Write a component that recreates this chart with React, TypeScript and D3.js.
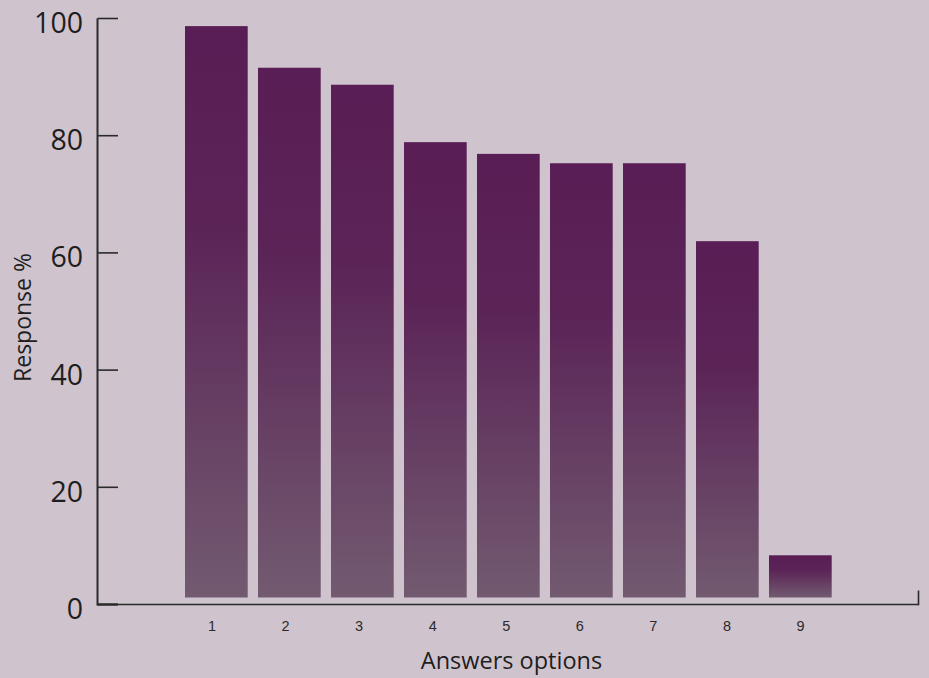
import React from "react";
import * as d3 from "d3";

// Survey responses per answer option (percent)
const categories = ["1", "2", "3", "4", "5", "6", "7", "8", "9"];
const responses = [98.7, 91.6, 88.7, 78.9, 76.9, 75.3, 75.3, 62.0, 8.4];
const yTicks = [0, 20, 40, 60, 80, 100];

const W = 929;
const H = 678;
const axisLeft = 97.5;
const axisRight = 918.5;
const axisBottom = 604.5;
const axisTop = 18.5;

export default function App() {
  const x = d3
    .scaleBand<string>()
    .domain(categories)
    .range([185, 831.7])
    .paddingInner(0.141)
    .paddingOuter(0);
  // category labels sit on their own evenly spaced axis positions
  const xLabel = d3.scalePoint<string>().domain(categories).range([212, 800.5]);
  const y = d3.scaleLinear().domain([0, 100]).range([axisBottom, axisTop]);
  const barBase = y(0) - 7;

  return (
    <svg
      width={W}
      height={H}
      style={{ position: "absolute", left: 0, top: 0, display: "block" }}
    >
      <defs>
        <linearGradient id="barFill" x1="0" y1="0" x2="0" y2="1">
          <stop offset="0%" stopColor="#591e55" />
          <stop offset="35%" stopColor="#5b2457" />
          <stop offset="100%" stopColor="#725a70" />
        </linearGradient>
      </defs>
      <rect x={0} y={0} width={W} height={H} fill="#cfc4ce" />

      {categories.map((c, i) => (
        <rect
          key={c}
          x={x(c)}
          y={y(responses[i])}
          width={x.bandwidth()}
          height={barBase - y(responses[i])}
          fill="url(#barFill)"
        />
      ))}

      {/* y axis */}
      <line x1={axisLeft} x2={axisLeft} y1={axisTop} y2={axisBottom + 1} stroke="#2a2a2a" strokeWidth={2} />
      {yTicks.map((t) => (
        <g key={t}>
          <line x1={axisLeft} x2={118} y1={y(t)} y2={y(t)} stroke="#2a2a2a" strokeWidth={t === 0 ? 2.4 : 1.6} />
          <text
            x={83}
            y={y(t) + 14.5}
            textAnchor="end"
            fontFamily="'Open Sans', sans-serif"
            fontSize={28.5}
            fill="#1e1e1e"
          >
            {t}
          </text>
        </g>
      ))}

      {/* x axis */}
      <line x1={axisLeft} x2={axisRight} y1={axisBottom} y2={axisBottom} stroke="#2a2a2a" strokeWidth={1.6} />
      <line x1={axisRight} x2={axisRight} y1={590.5} y2={axisBottom + 0.8} stroke="#2a2a2a" strokeWidth={1.6} />
      {categories.map((c) => (
        <text
          key={c}
          x={xLabel(c)}
          y={631}
          textAnchor="middle"
          fontFamily="'Liberation Sans', Arial, sans-serif"
          fontSize={14.5}
          fill="#2a2a2a"
        >
          {c}
        </text>
      ))}

      <text
        x={511.5}
        y={668.5}
        textAnchor="middle"
        fontFamily="'Open Sans', sans-serif"
        fontSize={23.5}
        fill="#1e1e1e"
      >
        Answers options
      </text>
      <text
        transform={`translate(23,${317.5}) rotate(-90)`}
        dy="0.36em"
        textAnchor="middle"
        fontFamily="'Open Sans', sans-serif"
        fontSize={23}
        fill="#1e1e1e"
      >
        Response %
      </text>
    </svg>
  );
}
